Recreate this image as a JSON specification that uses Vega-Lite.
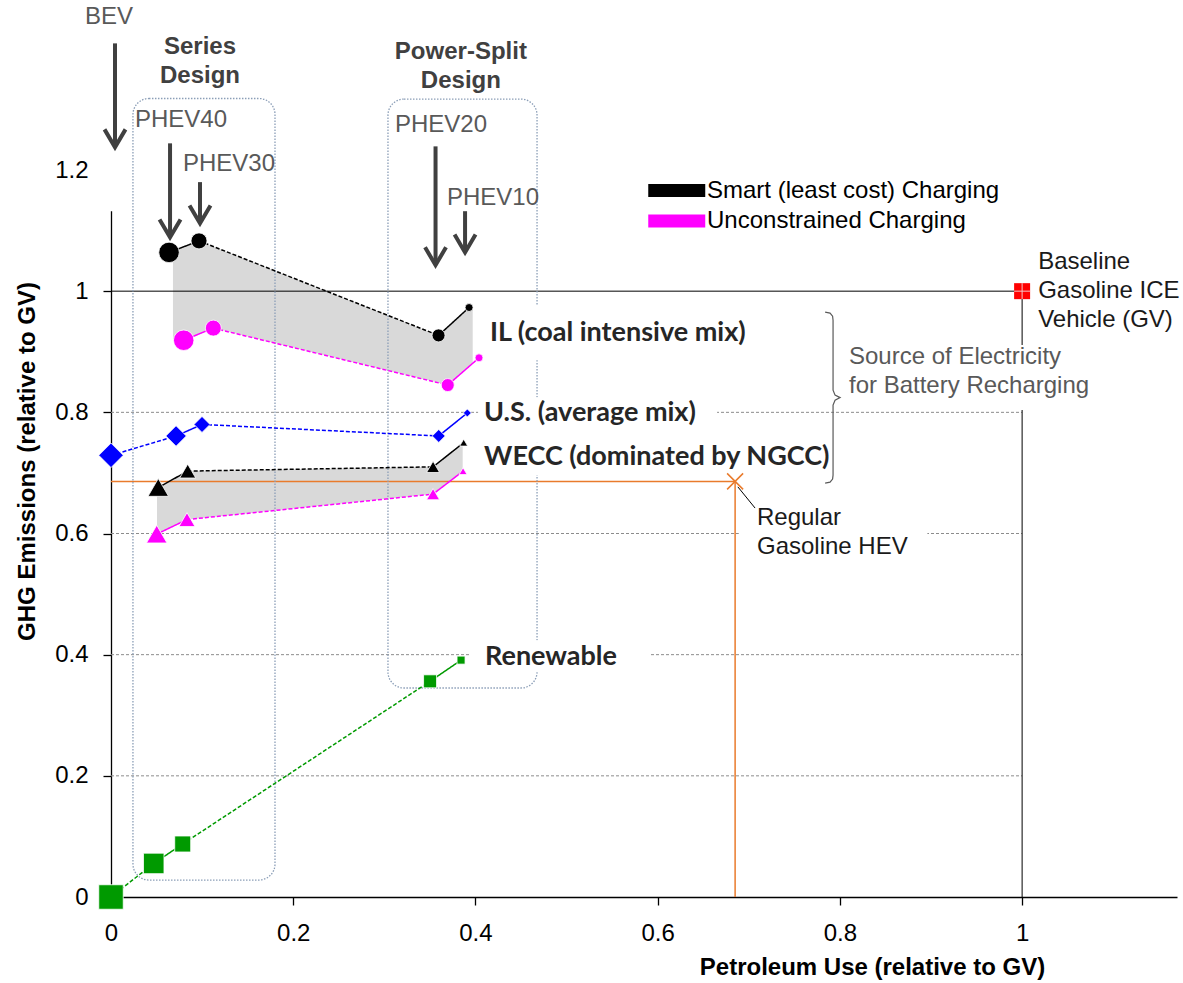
{
  "$schema": "https://vega.github.io/schema/vega-lite/v6.json",
  "width": 1066,
  "height": 727,
  "autosize": {"type": "none"},
  "padding": {"left": 111, "top": 170, "right": 6, "bottom": 86},
  "background": "white",
  "config": {"view": {"stroke": null}, "font": "Liberation Sans"},
  "datasets": {
    "grid": [{"ghg": 0.2, "from": 0, "to": 1}, {"ghg": 0.4, "from": 0, "to": 1}, {"ghg": 0.6, "from": 0, "to": 1}, {"ghg": 0.8, "from": 0, "to": 1}],
    "vehicles": [
      {"mix": "IL", "series": "Smart (least cost) Charging", "vehicle": "PHEV40", "design": "Series", "petroleum": 0.0637, "ghg": 1.064},
      {"mix": "IL", "series": "Smart (least cost) Charging", "vehicle": "PHEV30", "design": "Series", "petroleum": 0.0966, "ghg": 1.083},
      {"mix": "IL", "series": "Smart (least cost) Charging", "vehicle": "PHEV20", "design": "Power-Split", "petroleum": 0.3595, "ghg": 0.927},
      {"mix": "IL", "series": "Smart (least cost) Charging", "vehicle": "PHEV10", "design": "Power-Split", "petroleum": 0.393, "ghg": 0.973},
      {"mix": "IL", "series": "Unconstrained Charging", "vehicle": "PHEV40", "design": "Series", "petroleum": 0.0798, "ghg": 0.919},
      {"mix": "IL", "series": "Unconstrained Charging", "vehicle": "PHEV30", "design": "Series", "petroleum": 0.1123, "ghg": 0.939},
      {"mix": "IL", "series": "Unconstrained Charging", "vehicle": "PHEV20", "design": "Power-Split", "petroleum": 0.3696, "ghg": 0.845},
      {"mix": "IL", "series": "Unconstrained Charging", "vehicle": "PHEV10", "design": "Power-Split", "petroleum": 0.4039, "ghg": 0.89},
      {"mix": "US", "series": "U.S. (average mix)", "vehicle": "BEV", "design": "BEV", "petroleum": 0.0, "ghg": 0.729},
      {"mix": "US", "series": "U.S. (average mix)", "vehicle": "PHEV40", "design": "Series", "petroleum": 0.0714, "ghg": 0.761},
      {"mix": "US", "series": "U.S. (average mix)", "vehicle": "PHEV30", "design": "Series", "petroleum": 0.0999, "ghg": 0.78},
      {"mix": "US", "series": "U.S. (average mix)", "vehicle": "PHEV20", "design": "Power-Split", "petroleum": 0.3597, "ghg": 0.761},
      {"mix": "US", "series": "U.S. (average mix)", "vehicle": "PHEV10", "design": "Power-Split", "petroleum": 0.3911, "ghg": 0.799},
      {"mix": "WECC", "series": "Smart (least cost) Charging", "vehicle": "PHEV40", "design": "Series", "petroleum": 0.0519, "ghg": 0.676},
      {"mix": "WECC", "series": "Smart (least cost) Charging", "vehicle": "PHEV30", "design": "Series", "petroleum": 0.0842, "ghg": 0.703},
      {"mix": "WECC", "series": "Smart (least cost) Charging", "vehicle": "PHEV20", "design": "Power-Split", "petroleum": 0.3535, "ghg": 0.71},
      {"mix": "WECC", "series": "Smart (least cost) Charging", "vehicle": "PHEV10", "design": "Power-Split", "petroleum": 0.3871, "ghg": 0.75},
      {"mix": "WECC", "series": "Unconstrained Charging", "vehicle": "PHEV40", "design": "Series", "petroleum": 0.0502, "ghg": 0.599},
      {"mix": "WECC", "series": "Unconstrained Charging", "vehicle": "PHEV30", "design": "Series", "petroleum": 0.0834, "ghg": 0.623},
      {"mix": "WECC", "series": "Unconstrained Charging", "vehicle": "PHEV20", "design": "Power-Split", "petroleum": 0.3535, "ghg": 0.665},
      {"mix": "WECC", "series": "Unconstrained Charging", "vehicle": "PHEV10", "design": "Power-Split", "petroleum": 0.3864, "ghg": 0.703},
      {"mix": "Renewable", "series": "Renewable", "vehicle": "BEV", "design": "BEV", "petroleum": 0.0, "ghg": 0.0},
      {"mix": "Renewable", "series": "Renewable", "vehicle": "PHEV40", "design": "Series", "petroleum": 0.0469, "ghg": 0.0554},
      {"mix": "Renewable", "series": "Renewable", "vehicle": "PHEV30", "design": "Series", "petroleum": 0.0787, "ghg": 0.0875},
      {"mix": "Renewable", "series": "Renewable", "vehicle": "PHEV20", "design": "Power-Split", "petroleum": 0.3502, "ghg": 0.356},
      {"mix": "Renewable", "series": "Renewable", "vehicle": "PHEV10", "design": "Power-Split", "petroleum": 0.3842, "ghg": 0.391}
    ],
    "bands": [
      {"mix": "IL", "petroleum": 0.068, "high": 1.0665, "low": 0.921},
      {"mix": "IL", "petroleum": 0.0798, "high": 1.073, "low": 0.919},
      {"mix": "IL", "petroleum": 0.0966, "high": 1.083, "low": 0.929},
      {"mix": "IL", "petroleum": 0.1123, "high": 1.0737, "low": 0.939},
      {"mix": "IL", "petroleum": 0.3595, "high": 0.927, "low": 0.8487},
      {"mix": "IL", "petroleum": 0.3696, "high": 0.941, "low": 0.845},
      {"mix": "IL", "petroleum": 0.397, "high": 0.976, "low": 0.881},
      {"mix": "WECC", "petroleum": 0.0505, "high": 0.675, "low": 0.6},
      {"mix": "WECC", "petroleum": 0.0834, "high": 0.702, "low": 0.623},
      {"mix": "WECC", "petroleum": 0.0842, "high": 0.703, "low": 0.6232},
      {"mix": "WECC", "petroleum": 0.3535, "high": 0.71, "low": 0.665},
      {"mix": "WECC", "petroleum": 0.386, "high": 0.749, "low": 0.703}
    ],
    "refs": [
      {"vehicle": "Baseline Gasoline ICE Vehicle (GV)", "origin": 0, "petroleum": 1.0, "ghg": 1.0},
      {"vehicle": "Regular Gasoline HEV", "origin": 0, "petroleum": 0.685, "ghg": 0.686}
    ],
    "boxes": [
      {"design": "Series Design", "x0": 0.0241, "x1": 0.18, "y0": 0.028, "y1": 1.318},
      {"design": "Power-Split Design", "x0": 0.304, "x1": 0.4676, "y0": 0.345, "y1": 1.317}
    ],
    "covers": [
      {"box": "axis top", "x0": -0.0143, "x1": 0.0165, "y0": 1.132, "y1": 1.216},
      {"box": "IL label", "x0": 0.4105, "x1": 0.7124, "y0": 0.886, "y1": 0.977},
      {"box": "US label", "x0": 0.4029, "x1": 0.6652, "y0": 0.75, "y1": 0.825},
      {"box": "WECC label", "x0": 0.4029, "x1": 0.7838, "y0": 0.696, "y1": 0.75},
      {"box": "Renewable label", "x0": 0.394, "x1": 0.592, "y0": 0.371, "y1": 0.424},
      {"box": "HEV label", "x0": 0.689, "x1": 0.896, "y0": 0.556, "y1": 0.652},
      {"box": "Source label", "x0": 0.806, "x1": 1.08, "y0": 0.804, "y1": 0.911}
    ],
    "arrows": [
      {"vehicle": "BEV", "petroleum": 0.0044, "top": 1.409, "tip": 1.2376},
      {"vehicle": "PHEV40", "petroleum": 0.0648, "top": 1.244, "tip": 1.089},
      {"vehicle": "PHEV30", "petroleum": 0.0977, "top": 1.18, "tip": 1.112},
      {"vehicle": "PHEV20", "petroleum": 0.3562, "top": 1.239, "tip": 1.043},
      {"vehicle": "PHEV10", "petroleum": 0.3886, "top": 1.132, "tip": 1.064}
    ],
    "leader": [
      {"from_petroleum": 0.688, "from_ghg": 0.677, "to_petroleum": 0.7069, "to_ghg": 0.642}
    ],
    "brace": [
      {"seq": 1, "petroleum": 0.7838, "ghg": 0.9653},
      {"seq": 2, "petroleum": 0.7892, "ghg": 0.9637},
      {"seq": 3, "petroleum": 0.792, "ghg": 0.9587},
      {"seq": 4, "petroleum": 0.7925, "ghg": 0.9521},
      {"seq": 5, "petroleum": 0.7925, "ghg": 0.8366},
      {"seq": 6, "petroleum": 0.7947, "ghg": 0.8284},
      {"seq": 7, "petroleum": 0.8002, "ghg": 0.8243},
      {"seq": 8, "petroleum": 0.7947, "ghg": 0.8201},
      {"seq": 9, "petroleum": 0.7925, "ghg": 0.8119},
      {"seq": 10, "petroleum": 0.7925, "ghg": 0.6964},
      {"seq": 11, "petroleum": 0.792, "ghg": 0.6898},
      {"seq": 12, "petroleum": 0.7892, "ghg": 0.6848},
      {"seq": 13, "petroleum": 0.7838, "ghg": 0.6832}
    ],
    "notes": [
      {"kind": "vehicle", "note": "BEV", "petroleum": -0.0285, "ghg": 1.452},
      {"kind": "vehicle", "note": "PHEV40", "petroleum": 0.0263, "ghg": 1.282},
      {"kind": "vehicle", "note": "PHEV30", "petroleum": 0.079, "ghg": 1.2096},
      {"kind": "vehicle", "note": "PHEV20", "petroleum": 0.3117, "ghg": 1.274},
      {"kind": "vehicle", "note": "PHEV10", "petroleum": 0.3688, "ghg": 1.1535},
      {"kind": "vehicle", "note": "Source of Electricity\nfor Battery Recharging", "petroleum": 0.81, "ghg": 0.891},
      {"kind": "design", "note": "Series\nDesign", "petroleum": 0.0977, "ghg": 1.4026},
      {"kind": "design", "note": "Power-Split\nDesign", "petroleum": 0.384, "ghg": 1.3944},
      {"kind": "mix", "note": "IL (coal intensive mix)", "petroleum": 0.416, "ghg": 0.931},
      {"kind": "mix", "note": "U.S. (average mix)", "petroleum": 0.4094, "ghg": 0.799},
      {"kind": "mix", "note": "WECC (dominated by NGCC)", "petroleum": 0.4094, "ghg": 0.726},
      {"kind": "mix", "note": "Renewable", "petroleum": 0.4105, "ghg": 0.396},
      {"kind": "reference", "note": "Baseline\nGasoline ICE\nVehicle (GV)", "petroleum": 1.0176, "ghg": 1.0479},
      {"kind": "reference", "note": "Regular\nGasoline HEV", "petroleum": 0.709, "ghg": 0.6254}
    ]
  },
  "layer": [
    {
      "data": {"name": "grid"},
      "mark": {"type": "rule", "color": "#8C8C8C", "strokeWidth": 1, "strokeDash": [3, 2]},
      "encoding": {
        "y": {"field": "ghg", "type": "quantitative", "scale": {"domain": [0, 1.2], "nice": false, "zero": false},
          "axis": {"values": [0, 0.2, 0.4, 0.6, 0.8, 1, 1.2], "format": "~g", "grid": false, "domainColor": "#000000", "domainWidth": 1.3, "tickColor": "#000000", "tickWidth": 1.3, "tickSize": 8, "labelFont": "Liberation Sans", "labelFontSize": 24, "labelColor": "#000000", "labelPadding": 15, "labelFlush": false, "labelOverlap": false, "title": "GHG Emissions (relative to GV)", "titleFont": "Liberation Sans", "titleFontSize": 24, "titleFontWeight": "bold", "titleColor": "#000000", "titleX": -84, "titleY": 291, "titleAngle": 270, "titleAlign": "center", "titleBaseline": "middle"}},
        "x": {"field": "from", "type": "quantitative", "scale": {"domain": [0, 1.17], "nice": false, "zero": false},
          "axis": {"values": [0, 0.2, 0.4, 0.6, 0.8, 1], "format": "~g", "grid": false, "domainColor": "#000000", "domainWidth": 1.3, "tickColor": "#000000", "tickWidth": 1.3, "tickSize": 8, "labelFont": "Liberation Sans", "labelFontSize": 24, "labelColor": "#000000", "labelPadding": 16, "labelFlush": false, "labelOverlap": false, "title": "Petroleum Use (relative to GV)", "titleFont": "Liberation Sans", "titleFontSize": 24, "titleFontWeight": "bold", "titleColor": "#000000", "titleX": 761, "titleY": 70, "titleAlign": "center", "titleBaseline": "middle"}},
        "x2": {"field": "to"}
      }
    },
    {
      "data": {"name": "bands"},
      "mark": {"type": "area", "color": "#D9D9D9", "opacity": 1},
      "encoding": {
        "x": {"field": "petroleum", "type": "quantitative", "scale": {"domain": [0, 1.17], "nice": false, "zero": false}},
        "y": {"field": "high", "type": "quantitative", "scale": {"domain": [0, 1.2], "nice": false, "zero": false}},
        "y2": {"field": "low"},
        "detail": {"field": "mix", "type": "nominal"}
      }
    },
    {
      "data": {"name": "refs"},
      "transform": [{"filter": "datum.vehicle === 'Baseline Gasoline ICE Vehicle (GV)'"}],
      "mark": {"type": "rule", "color": "#000000", "strokeWidth": 1},
      "encoding": {
        "y": {"field": "ghg", "type": "quantitative", "scale": {"domain": [0, 1.2], "nice": false, "zero": false}},
        "x": {"field": "origin", "type": "quantitative", "scale": {"domain": [0, 1.17], "nice": false, "zero": false}},
        "x2": {"field": "petroleum"}
      }
    },
    {
      "data": {"name": "refs"},
      "transform": [{"filter": "datum.vehicle === 'Baseline Gasoline ICE Vehicle (GV)'"}],
      "mark": {"type": "rule", "color": "#000000", "strokeWidth": 1},
      "encoding": {
        "x": {"field": "petroleum", "type": "quantitative", "scale": {"domain": [0, 1.17], "nice": false, "zero": false}},
        "y": {"field": "origin", "type": "quantitative", "scale": {"domain": [0, 1.2], "nice": false, "zero": false}},
        "y2": {"field": "ghg"}
      }
    },
    {
      "data": {"name": "refs"},
      "transform": [{"filter": "datum.vehicle === 'Regular Gasoline HEV'"}],
      "mark": {"type": "rule", "color": "#E97B2C", "strokeWidth": 1.5},
      "encoding": {
        "y": {"field": "ghg", "type": "quantitative", "scale": {"domain": [0, 1.2], "nice": false, "zero": false}},
        "x": {"field": "origin", "type": "quantitative", "scale": {"domain": [0, 1.17], "nice": false, "zero": false}},
        "x2": {"field": "petroleum"}
      }
    },
    {
      "data": {"name": "refs"},
      "transform": [{"filter": "datum.vehicle === 'Regular Gasoline HEV'"}],
      "mark": {"type": "rule", "color": "#E97B2C", "strokeWidth": 1.5},
      "encoding": {
        "x": {"field": "petroleum", "type": "quantitative", "scale": {"domain": [0, 1.17], "nice": false, "zero": false}},
        "y": {"field": "origin", "type": "quantitative", "scale": {"domain": [0, 1.2], "nice": false, "zero": false}},
        "y2": {"field": "ghg"}
      }
    },
    {
      "data": {"name": "boxes"},
      "mark": {"type": "rect", "fillOpacity": 0, "stroke": "#8B9EB7", "strokeWidth": 1.3, "strokeDash": [1.5, 1.5], "cornerRadius": 16},
      "encoding": {
        "x": {"field": "x0", "type": "quantitative", "scale": {"domain": [0, 1.17], "nice": false, "zero": false}},
        "x2": {"field": "x1"},
        "y": {"field": "y0", "type": "quantitative", "scale": {"domain": [0, 1.2], "nice": false, "zero": false}},
        "y2": {"field": "y1"}
      }
    },
    {
      "data": {"name": "covers"},
      "mark": {"type": "rect", "fill": "#FFFFFF", "strokeWidth": 0},
      "encoding": {
        "x": {"field": "x0", "type": "quantitative", "scale": {"domain": [0, 1.17], "nice": false, "zero": false}},
        "x2": {"field": "x1"},
        "y": {"field": "y0", "type": "quantitative", "scale": {"domain": [0, 1.2], "nice": false, "zero": false}},
        "y2": {"field": "y1"}
      }
    },
    {
      "data": {"name": "vehicles"},
      "transform": [
        {"window": [
          {"op": "lead", "field": "petroleum", "as": "next_petroleum"},
          {"op": "lead", "field": "ghg", "as": "next_ghg"},
          {"op": "lead", "field": "design", "as": "next_design"}
        ], "groupby": ["mix", "series"], "sort": [{"field": "petroleum", "order": "ascending"}]},
        {"filter": "isValid(datum.next_petroleum)"}
      ],
      "mark": {"type": "rule", "strokeWidth": 1.5},
      "encoding": {
        "x": {"field": "petroleum", "type": "quantitative", "scale": {"domain": [0, 1.17], "nice": false, "zero": false}},
        "y": {"field": "ghg", "type": "quantitative", "scale": {"domain": [0, 1.2], "nice": false, "zero": false}},
        "x2": {"field": "next_petroleum"},
        "y2": {"field": "next_ghg"},
        "color": {"field": "series", "type": "nominal", "scale": {"domain": ["Smart (least cost) Charging", "Unconstrained Charging", "U.S. (average mix)", "Renewable"], "range": ["#000000", "#FF00FF", "#0000FF", "#009A00"]}},
        "strokeDash": {"condition": {"test": "datum.design === datum.next_design", "value": [1, 0]}, "value": [4, 2]}
      }
    },
    {
      "data": {"name": "vehicles"},
      "mark": {"type": "point", "filled": true, "opacity": 1, "stroke": "#FFFFFF", "strokeWidth": 0.8},
      "encoding": {
        "x": {"field": "petroleum", "type": "quantitative", "scale": {"domain": [0, 1.17], "nice": false, "zero": false}},
        "y": {"field": "ghg", "type": "quantitative", "scale": {"domain": [0, 1.2], "nice": false, "zero": false}},
        "color": {"field": "series", "type": "nominal",
          "scale": {"domain": ["Smart (least cost) Charging", "Unconstrained Charging", "U.S. (average mix)", "Renewable"], "range": ["#000000", "#FF00FF", "#0000FF", "#009A00"]},
          "legend": {"values": ["Smart (least cost) Charging", "Unconstrained Charging"], "orient": "none", "legendX": 537, "legendY": 6, "title": null, "symbolType": "M-1,-0.46H3V0.46H-1Z", "symbolSize": 812, "symbolStrokeWidth": 0, "symbolOpacity": 1, "labelFont": "Liberation Sans", "labelFontSize": 24, "labelColor": "#000000", "labelOffset": 30, "rowPadding": 3.5, "padding": 0, "labelLimit": 500,
            "encode": {"symbols": {"update": {"fill": {"scale": "color", "field": "value"}, "shape": {"value": "M-1,-0.46H3V0.46H-1Z"}, "size": {"value": 812}, "stroke": {"value": "transparent"}, "strokeWidth": {"value": 0}, "strokeDash": {"value": []}, "opacity": {"value": 1}}}}}},
        "shape": {"field": "mix", "type": "nominal", "scale": {"domain": ["IL", "US", "WECC", "Renewable"], "range": ["circle", "diamond", "triangle-up", "square"]}, "legend": null},
        "size": {"field": "vehicle", "type": "nominal", "scale": {"type": "ordinal", "domain": ["BEV", "PHEV40", "PHEV30", "PHEV20", "PHEV10"], "range": [600, 420, 256, 169, 64]}, "legend": null}
      }
    },
    {
      "data": {"name": "refs"},
      "transform": [{"filter": "datum.vehicle === 'Baseline Gasoline ICE Vehicle (GV)'"}],
      "mark": {"type": "point", "shape": "square", "filled": true, "color": "#FF0000", "opacity": 1, "size": 256, "strokeWidth": 0},
      "encoding": {
        "x": {"field": "petroleum", "type": "quantitative", "scale": {"domain": [0, 1.17], "nice": false, "zero": false}},
        "y": {"field": "ghg", "type": "quantitative", "scale": {"domain": [0, 1.2], "nice": false, "zero": false}}
      }
    },
    {
      "data": {"name": "refs"},
      "transform": [{"filter": "datum.vehicle === 'Baseline Gasoline ICE Vehicle (GV)'"}],
      "mark": {"type": "point", "shape": "M-1,0H1M0,-1V1", "filled": false, "color": "#F4C4C4", "opacity": 1, "size": 256, "strokeWidth": 1},
      "encoding": {
        "x": {"field": "petroleum", "type": "quantitative", "scale": {"domain": [0, 1.17], "nice": false, "zero": false}},
        "y": {"field": "ghg", "type": "quantitative", "scale": {"domain": [0, 1.2], "nice": false, "zero": false}}
      }
    },
    {
      "data": {"name": "refs"},
      "transform": [{"filter": "datum.vehicle === 'Regular Gasoline HEV'"}],
      "mark": {"type": "point", "shape": "M-1,-1L1,1M1,-1L-1,1", "filled": false, "color": "#E97B2C", "opacity": 1, "size": 256, "strokeWidth": 1.5},
      "encoding": {
        "x": {"field": "petroleum", "type": "quantitative", "scale": {"domain": [0, 1.17], "nice": false, "zero": false}},
        "y": {"field": "ghg", "type": "quantitative", "scale": {"domain": [0, 1.2], "nice": false, "zero": false}}
      }
    },
    {
      "data": {"name": "leader"},
      "mark": {"type": "rule", "color": "#000000", "strokeWidth": 1},
      "encoding": {
        "x": {"field": "from_petroleum", "type": "quantitative", "scale": {"domain": [0, 1.17], "nice": false, "zero": false}},
        "y": {"field": "from_ghg", "type": "quantitative", "scale": {"domain": [0, 1.2], "nice": false, "zero": false}},
        "x2": {"field": "to_petroleum"},
        "y2": {"field": "to_ghg"}
      }
    },
    {
      "data": {"name": "brace"},
      "mark": {"type": "line", "color": "#595959", "strokeWidth": 1.2, "interpolate": "linear"},
      "encoding": {
        "x": {"field": "petroleum", "type": "quantitative", "scale": {"domain": [0, 1.17], "nice": false, "zero": false}},
        "y": {"field": "ghg", "type": "quantitative", "scale": {"domain": [0, 1.2], "nice": false, "zero": false}},
        "order": {"field": "seq", "type": "quantitative"}
      }
    },
    {
      "data": {"name": "arrows"},
      "mark": {"type": "rule", "color": "#404040", "strokeWidth": 4},
      "encoding": {
        "x": {"field": "petroleum", "type": "quantitative", "scale": {"domain": [0, 1.17], "nice": false, "zero": false}},
        "y": {"field": "top", "type": "quantitative", "scale": {"domain": [0, 1.2], "nice": false, "zero": false}},
        "y2": {"field": "tip"}
      }
    },
    {
      "data": {"name": "arrows"},
      "mark": {"type": "point", "shape": "M-1,-1.7L0,0L1,-1.7", "filled": false, "color": "#404040", "opacity": 1, "size": 441, "strokeWidth": 4, "strokeJoin": "miter"},
      "encoding": {
        "x": {"field": "petroleum", "type": "quantitative", "scale": {"domain": [0, 1.17], "nice": false, "zero": false}},
        "y": {"field": "tip", "type": "quantitative", "scale": {"domain": [0, 1.2], "nice": false, "zero": false}}
      }
    },
    {
      "data": {"name": "notes"},
      "transform": [{"filter": "datum.kind === 'vehicle'"}],
      "mark": {"type": "text", "font": "Liberation Sans", "fontSize": 24, "color": "#595959", "align": "left", "baseline": "middle", "lineBreak": "\n", "lineHeight": 29},
      "encoding": {
        "x": {"field": "petroleum", "type": "quantitative", "scale": {"domain": [0, 1.17], "nice": false, "zero": false}},
        "y": {"field": "ghg", "type": "quantitative", "scale": {"domain": [0, 1.2], "nice": false, "zero": false}},
        "text": {"field": "note", "type": "nominal"}
      }
    },
    {
      "data": {"name": "notes"},
      "transform": [{"filter": "datum.kind === 'design'"}],
      "mark": {"type": "text", "font": "Liberation Sans", "fontSize": 24, "fontWeight": "bold", "color": "#404040", "align": "center", "baseline": "middle", "lineBreak": "\n", "lineHeight": 29},
      "encoding": {
        "x": {"field": "petroleum", "type": "quantitative", "scale": {"domain": [0, 1.17], "nice": false, "zero": false}},
        "y": {"field": "ghg", "type": "quantitative", "scale": {"domain": [0, 1.2], "nice": false, "zero": false}},
        "text": {"field": "note", "type": "nominal"}
      }
    },
    {
      "data": {"name": "notes"},
      "transform": [{"filter": "datum.kind === 'mix'"}],
      "mark": {"type": "text", "font": "Lato", "fontSize": 27, "fontWeight": "bold", "color": "#262626", "align": "left", "baseline": "middle"},
      "encoding": {
        "x": {"field": "petroleum", "type": "quantitative", "scale": {"domain": [0, 1.17], "nice": false, "zero": false}},
        "y": {"field": "ghg", "type": "quantitative", "scale": {"domain": [0, 1.2], "nice": false, "zero": false}},
        "text": {"field": "note", "type": "nominal"}
      }
    },
    {
      "data": {"name": "notes"},
      "transform": [{"filter": "datum.kind === 'reference'"}],
      "mark": {"type": "text", "font": "Liberation Sans", "fontSize": 24, "color": "#1A1A1A", "align": "left", "baseline": "middle", "lineBreak": "\n", "lineHeight": 29},
      "encoding": {
        "x": {"field": "petroleum", "type": "quantitative", "scale": {"domain": [0, 1.17], "nice": false, "zero": false}},
        "y": {"field": "ghg", "type": "quantitative", "scale": {"domain": [0, 1.2], "nice": false, "zero": false}},
        "text": {"field": "note", "type": "nominal"}
      }
    }
  ]
}
